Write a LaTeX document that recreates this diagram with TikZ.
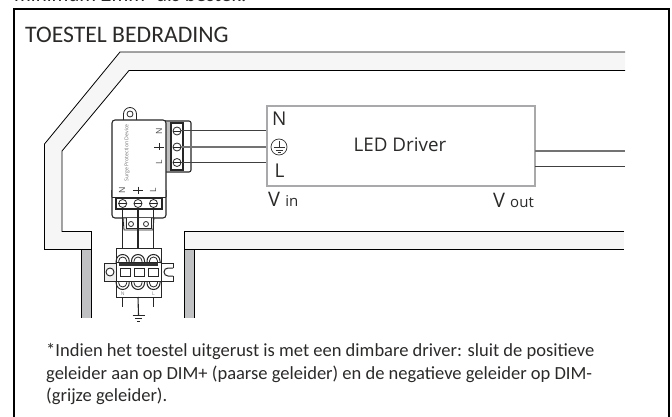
\documentclass[tikz,border=0pt]{standalone}
\usepackage{fontspec}
\setmainfont{Carlito}
\setsansfont{Open Sans}
\definecolor{ductfill}{HTML}{F6F6F6}
\definecolor{wallgray}{HTML}{C0C1C2}
\definecolor{boxgray}{HTML}{A9A9AB}
\definecolor{inktext}{HTML}{2B2A29}
\tikzset{
  duct/.style={draw=black,line width=0.8pt,fill=ductfill,line join=miter},
  wall/.style={draw=black,line width=0.8pt},
  wiredark/.style={draw=black!75,line width=1pt},
  wiremid/.style={draw=black!55,line width=1.6pt},
  devline/.style={draw=black!85,line width=0.8pt},
  term/.style={circle,draw=black!85,line width=0.8pt,minimum size=8pt,inner sep=0pt,fill=white},
  hole/.style={circle,draw=black!85,line width=0.8pt,minimum size=6pt,inner sep=0pt,fill=white},
  label/.style={inner sep=0pt,text=inktext},
  notetext/.style={inner sep=0pt,anchor=base west,text=inktext,font=\fontsize{18.52}{20}\selectfont},
  sanslabel/.style={inner sep=0pt,text=inktext,font=\sffamily\fontsize{19}{20}\selectfont},
  tiny/.style={inner sep=0pt,text=black!70,font=\sffamily\fontsize{8}{9}\selectfont,rotate=90},
}
\begin{document}
\begin{tikzpicture}[x=1pt,y=-1pt]
\useasboundingbox (0,0) rectangle (672,417);
\begin{scope}
\clip (0,0) rectangle (672,417);
% cropped heading above the frame
\node[notetext,font=\fontsize{21}{22}\selectfont] (cut) at (14,2) {minimum 2mm² als bestek.};
% frame
\coordinate (fa) at (13.5,418);
\coordinate (fb) at (13.5,9);
\coordinate (fc) at (668.5,9);
\coordinate (fd) at (668.5,418);
\draw[line width=2pt,black] (fa) -- (fb) -- (fc) -- (fd);
% walls
\fill[wallgray] (81.5,250) rectangle (91.5,318);
\draw[wall] (81.5,250) -- (81.5,318) (91.5,250) -- (91.5,318);
\fill[wallgray] (184,250) rectangle (194,318);
\draw[wall] (184,250) -- (184,318) (194,250) -- (194,318);
% ducts
\fill[ductfill] (625,52) -- (120,52) -- (44.5,144) -- (44.5,249.5) -- (91.5,249.5) -- (91.5,231.5) -- (62,231.5) -- (62,151) -- (129,70.5) -- (625,70.5) -- cycle;
\draw[duct,fill=none] (625,52) -- (120,52) -- (44.5,144) -- (44.5,249.5) -- (91.5,249.5) -- (91.5,231.5) -- (62,231.5) -- (62,151) -- (129,70.5) -- (625,70.5);
\fill[ductfill] (184,231.5) rectangle (624,249.5);
\draw[duct,fill=none] (624,231.5) -- (184,231.5) -- (184,249.5) -- (624,249.5);
\node[label,anchor=base west,font=\fontsize{23.7}{24}\selectfont] (title) at (25,43) {TOESTEL BEDRADING};
% driver
\node[draw=boxgray,line width=1.1pt,fill=white,minimum width=268pt,minimum height=80pt,inner sep=0pt] (driver) at (401,146) {};
\node[label,font=\sffamily\fontsize{18.8}{20}\selectfont] at (400,145) {LED Driver};
\node[sanslabel,anchor=base west] (nn) at (272,126) {N};
\node[sanslabel,anchor=base west] (ll) at (274.5,178) {L};
\node[circle,draw=black!80,line width=0.7pt,minimum size=16pt,inner sep=0pt] (pe) at (279,147) {};
\draw[black!80,line width=0.7pt] (279,141) -- (279,147) (273.5,147) -- (284.5,147) (275.5,150) -- (282.5,150) (277.5,152.5) -- (280.5,152.5);
\node[inner sep=0pt,anchor=base west,text=inktext] (vin) at (268,206) {\sffamily\fontsize{20}{20}\selectfont V \fontsize{15}{16}\selectfont in};
\node[inner sep=0pt,anchor=base east,text=inktext] (vout) at (534,207) {\sffamily\fontsize{20}{20}\selectfont V \fontsize{15}{16}\selectfont out};
% output wires
\coordinate (o1) at (535,151);
\coordinate (o1e) at (625,151);
\coordinate (o2) at (535,166.7);
\coordinate (o2e) at (625,166.7);
\draw[wiremid] (o1) -- (o1e);
\draw[wiredark] (o2) -- (o2e);
% device lug
\draw[devline,fill=white] (123.5,121) -- (123.5,114) arc[start angle=180,end angle=360,radius=6.5] -- (136.5,121);
\node[hole] (lug) at (130,114) {};
% right terminal block
\draw[devline,fill=white,rounded corners=2pt,line width=1.1pt] (160,121) -- (191,121) -- (191,172) -- (160,172);
\fill[black!25] (166,122) rectangle (171,171);
\draw[devline,fill=white,line width=1.1pt] (171,123) rectangle (183,170);
% body
\draw[devline,fill=white,rounded corners=3pt,line width=1.1pt] (166,197) -- (166,120) -- (112,120) -- (112,197);
\draw[devline,fill=white,rounded corners=3pt,line width=1.1pt] (112,190) -- (112,218) -- (166,218) -- (166,190);
\draw[devline,line width=1pt] (112,197) -- (166,197);
\draw[devline,fill=white,line width=1.1pt] (116,198) rectangle (162,209);
% bracket
\draw[devline,fill=black!8] (123,218) -- (124,230) -- (153,230) -- (154,218) -- cycle;
\draw[devline,fill=white] (126,218) -- (126,228) -- (151,228) -- (151,218);
\node[hole,minimum size=5pt] (h1) at (131,224) {};
\node[hole,minimum size=5pt] (h2) at (146,224) {};
% right terminals
\node[term] (tn) at (177,131) {};
\node[term] (te) at (177,147) {};
\node[term] (tl) at (177,162.5) {};
\foreach \t in {tn,te,tl}{\draw[black!85,line width=0.8pt] (\t.west) -- (\t.east);}
% bottom terminals
\node[term] (bn) at (122.7,203.5) {};
\node[term] (be) at (138,203.5) {};
\node[term] (bl) at (153.5,203.5) {};
\foreach \t in {bn,be,bl}{\draw[black!85,line width=0.8pt] (\t.west) -- (\t.east);}
% wires to the driver
\draw[wiredark] (tn.east) -- (driver.west |- tn);
\draw[wiremid] (te.east) -- (driver.west |- te);
\draw[wiredark] (tl.east) -- (driver.west |- tl);
% device labels
\node[inner sep=0pt,text=black!55,font=\sffamily\fontsize{5.2}{6}\selectfont,rotate=90] (spd) at (127,153) {Surge Protection Device};
\node[tiny,font=\sffamily\fontsize{8.5}{9}\selectfont] (n1) at (159,131) {N};
\node[tiny,font=\sffamily\fontsize{8.5}{9}\selectfont] (l1) at (159,162) {L};
\draw[black!85,line width=0.9pt] (154,147) -- (164,147) (159,143.5) -- (159,150.5);
\node[tiny,font=\sffamily\fontsize{8.5}{9}\selectfont] (n2) at (122,190) {N};
\node[tiny,font=\sffamily\fontsize{8.5}{9}\selectfont] (l2) at (153,190) {L};
\draw[black!85,line width=0.9pt] (133,190) -- (143,190) (138.5,186.5) -- (138.5,193.5);
% connector block
\node[draw=black!85,line width=1pt,fill=white,minimum width=45pt,minimum height=49pt,inner sep=0pt] (conn) at (138.5,272.5) {};
\coordinate (cn) at (122.7,248);
\coordinate (ce) at (138,248);
\coordinate (cl) at (153.5,248);
\coordinate (dn) at (122.7,297);
\coordinate (de) at (138,297);
\coordinate (dl) at (153.5,297);
% wires through
\draw[devline,line width=1.1pt] (bn) -- (cn);
\draw[devline,line width=1.1pt] (be) -- (ce);
\draw[devline,line width=1.1pt] (bl) -- (cl);
% arches
\foreach \x in {122.7,138,153.5}{
  \draw[black!85,line width=1pt] (\x-6.5,263) -- (\x-6.5,261) arc[start angle=180,end angle=360,radius=6.5] -- (\x+6.5,263);
  \draw[black!85,line width=0.8pt] (\x-4,263) -- (\x-4,261) arc[start angle=180,end angle=360,radius=4] -- (\x+4,263);
  \draw[black!85,line width=1pt] (\x-6.5,281) -- (\x-6.5,283) arc[start angle=180,end angle=0,radius=6.5] -- (\x+6.5,281);
  \draw[black!85,line width=0.8pt] (\x-4,281) -- (\x-4,283) arc[start angle=180,end angle=0,radius=4] -- (\x+4,281);
}
\draw[devline] (116,262.5) -- (161,262.5) (116,281) -- (161,281);
\fill[black!80] (119,263) rectangle (158,266);
\draw[devline,fill=white] (120,268) rectangle (130,276);
\draw[devline,fill=white] (134,268) rectangle (144,276);
\draw[devline,fill=white] (148,268) rectangle (158,276);
% ears
\draw[devline,fill=black!6,line width=1pt] (116,263) -- (104,263) -- (104,281) -- (116,281);
\node[circle,draw=black!85,line width=0.9pt,minimum size=8pt,inner sep=0pt,fill=white] (earl) at (110,272) {};
\draw[devline,line width=1pt] (161,263) -- (173,263) -- (173,268) (173,276) -- (173,281) -- (161,281);
\draw[devline,line width=1pt] (173,268) -- (168,268) arc[start angle=270,end angle=90,radius=4] -- (173,276);
% connector small labels
\node[inner sep=0pt,text=black!50,font=\sffamily\fontsize{5}{6}\selectfont] (cln) at (122.7,294) {N};
\node[inner sep=0pt,text=black!50,font=\sffamily\fontsize{5}{6}\selectfont] (cll) at (153.5,294) {L};
% lower wires and ground
\coordinate (en) at (122.7,307);
\coordinate (ee) at (138.5,315);
\coordinate (el) at (153.5,307);
\draw[devline,line width=1.1pt] (dn) -- (en);
\draw[devline,line width=1.1pt] (de) -- (ee);
\draw[devline,line width=1.1pt] (dl) -- (el);
\draw[black!85,line width=0.9pt] (132.5,315.5) -- (144.5,315.5) (135,318.5) -- (142,318.5) (137,321.5) -- (140,321.5);
% note
\node[notetext] (note1) at (46,356) {*Indien het toestel uitgerust is met een dimbare driver: sluit de positieve};
\node[notetext] (note2) at (46,379) {geleider aan op DIM+ (paarse geleider) en de negatieve geleider op DIM-};
\node[notetext] (note3) at (46,401) {(grijze geleider).};
\end{scope}
\end{tikzpicture}
\end{document}
